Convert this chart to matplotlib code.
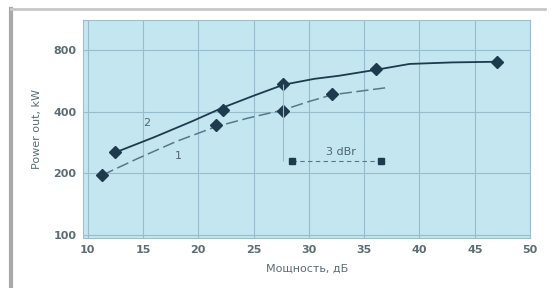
import numpy as np
import matplotlib.pyplot as plt
from matplotlib.lines import Line2D
from matplotlib.ticker import FixedLocator, NullLocator

# measured points
upper_x = [12.5, 22.2, 27.7, 36.1, 47.0]
upper_y = [253, 408, 547, 647, 700]
lower_x = [11.3, 21.6, 27.7, 32.1]
lower_y = [196, 346, 404, 489]

# fitted curves
upper_fit_x = [12.5, 16.0, 19.5, 22.2, 25.0, 27.7, 30.5, 32.7, 36.1, 39.1, 43.0, 47.0]
upper_fit_y = [253, 300, 360, 418, 478, 541, 578, 598, 640, 683, 695, 700]
lower_fit_x = [11.3, 14.5, 18.0, 21.6, 24.5, 27.7, 30.0, 32.1, 37.1]
lower_fit_y = [196, 236, 286, 338, 372, 408, 448, 483, 524]

# 3 dB marker
gap_x = [28.5, 36.5]
gap_y = [229, 229]

x_ticks = [10, 15, 20, 25, 30, 35, 40, 45, 50]
y_ticks = [100, 200, 400, 800]

BG = '#c3e6f0'
GRID = '#97bccb'
DARK = '#1e3b4e'
TXT = '#5d6d74'

fig = plt.figure(figsize=(5.51, 2.88), dpi=100)
fig.patch.set_facecolor('white')

# gray frame of the scanned page
fig.add_artist(Line2D([0.02, 0.02], [0.0, 0.97], color='#a9a9a9', lw=3,
                      transform=fig.transFigure))
fig.add_artist(Line2D([0.02, 0.99], [0.97, 0.97], color='#c8c8c8', lw=2,
                      transform=fig.transFigure))

ax = fig.add_axes([0.151, 0.174, 0.811, 0.757])
ax.set_facecolor(BG)
ax.set_yscale('log')
ax.set_xlim(9.6, 50.0)
ax.set_ylim(97, 1120)

ax.xaxis.set_major_locator(FixedLocator(x_ticks))
ax.yaxis.set_major_locator(FixedLocator(y_ticks))
ax.yaxis.set_minor_locator(NullLocator())
ax.set_yticklabels([str(v) for v in y_ticks])
ax.tick_params(length=0, labelsize=8, colors=TXT, pad=5)
for lab in ax.get_xticklabels() + ax.get_yticklabels():
    lab.set_fontweight('bold')
ax.grid(True, color=GRID, lw=0.8)
for s in ax.spines.values():
    s.set_color('#9cc0cc')

ax.plot(upper_fit_x, upper_fit_y, color=DARK, lw=1.3)
ax.plot(lower_fit_x, lower_fit_y, color='#587886', lw=1.1, ls=(0, (8, 3)))
ax.plot(upper_x, upper_y, 'D', color=DARK, ms=6)
ax.plot(lower_x, lower_y, 'D', color=DARK, ms=6)

# 3 dB annotation
ax.plot(gap_x, gap_y, color='#587886', lw=0.8, ls=(0, (4, 3)))
ax.plot(gap_x, gap_y, 's', color=DARK, ms=5)
ax.vlines([27.7], [gap_y[0]], [upper_y[2]], color=GRID, lw=0.8)
ax.text(32.9, 255, '3 dBr', fontsize=8, color='#4f6670', ha='center', va='center')

ax.text(15.3, 353, '2', fontsize=8, color='#4f6670', ha='center', va='center')
ax.text(18.2, 242, '1', fontsize=8, color='#4f6670', ha='center', va='center')

ax.set_xlabel('Мощность, дБ', fontsize=8, color=TXT, labelpad=6)
ax.set_ylabel('Power out, kW', fontsize=8, color=TXT, labelpad=8)

fig.savefig('out.png', dpi=100)
